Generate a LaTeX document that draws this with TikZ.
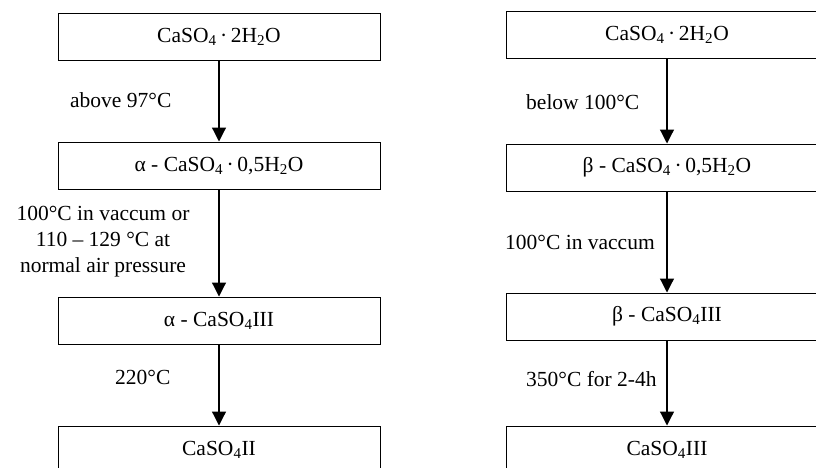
\documentclass[tikz,border=0pt]{standalone}
\usepackage{fontspec}
\setmainfont{Liberation Serif}
\usetikzlibrary{arrows.meta,positioning}

\begin{document}
\begin{tikzpicture}[x=1pt,y=-1pt,
  phase/.style={draw, line width=1pt, minimum width=322pt, minimum height=47pt, inner sep=0pt},
  flow/.style={line width=1.2pt, -{Triangle[length=14pt,width=14pt]}},
  cond/.style={inner sep=0pt, align=center}]
\tikzset{every node/.style={font=\fontsize{21.5}{26}\selectfont}}
    \useasboundingbox (0,0) rectangle (816,467);
    \clip (0,0) rectangle (816,467);

    % alpha route
    \node[phase] (a1) at (219, 36.5) {CaSO\textsubscript{4}\,·\,2H\textsubscript{2}O};
    \node[phase] (a2) at (219, 165.5) {α - CaSO\textsubscript{4}\,·\,0,5H\textsubscript{2}O};
    \node[phase] (a3) at (219, 320.5) {α - CaSO\textsubscript{4}III};
    \node[phase] (a4) at (219, 449.5) {CaSO\textsubscript{4}II};

    \draw[flow] (a1) -- (a2);
    \draw[flow] (a2) -- (a3);
    \draw[flow] (a3) -- (a4);

    \node[cond, anchor=west] (c1) at (70, 100) {above 97°C};
    \node[cond] (c2) at (103, 242) {100°C in vaccum or\\110 – 129 °C at\\normal air pressure};
    \node[cond, anchor=west] (c3) at (115, 377) {220°C};

    % beta route
    \node[phase] (b1) at (667, 35) {CaSO\textsubscript{4}\,·\,2H\textsubscript{2}O};
    \node[phase] (b2) at (667, 167.5) {β - CaSO\textsubscript{4}\,·\,0,5H\textsubscript{2}O};
    \node[phase] (b3) at (667, 316.5) {β - CaSO\textsubscript{4}III};
    \node[phase] (b4) at (667, 449.5) {CaSO\textsubscript{4}III};

    \draw[flow] (b1) -- (b2);
    \draw[flow] (b2) -- (b3);
    \draw[flow] (b3) -- (b4);

    \node[cond, anchor=west] (d1) at (526, 102) {below 100°C};
    \node[cond, anchor=west] (d2) at (505, 242) {100°C in vaccum};
    \node[cond, anchor=west] (d3) at (526, 379) {350°C for 2-4h};
\end{tikzpicture}
\end{document}
